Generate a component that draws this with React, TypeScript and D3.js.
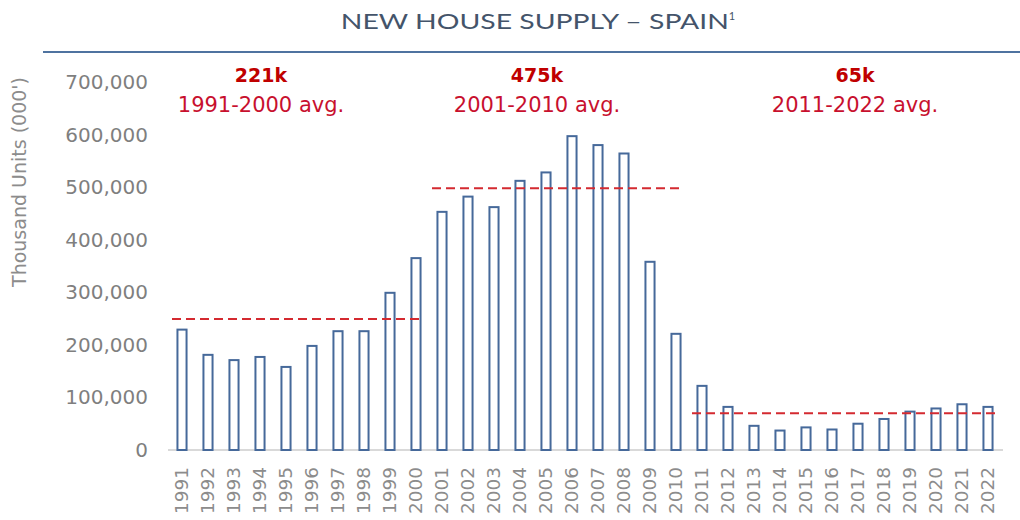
import { useEffect, useRef } from "react"
import * as d3 from "d3"

const years = d3.range(1991, 2023).map(String)
const supply = [
  229000, 181000, 171000, 177000, 158000, 198000, 226000, 226000, 299000, 365000,
  453000, 482000, 462000, 512000, 528000, 597000, 580000, 564000, 358000, 221000,
  122000, 82000, 46000, 37000, 43000, 39000, 50000, 59000, 73000, 79000, 87000, 82000,
]
const yTicks = [0, 100000, 200000, 300000, 400000, 500000, 600000, 700000]

const periodFrom = ["1991", "2001", "2011"]
const periodTo = ["2000", "2010", "2022"]
const periodLine = [249000, 498000, 70000]
const periodValue = ["221k", "475k", "65k"]
const periodText = ["1991-2000 avg.", "2001-2010 avg.", "2011-2022 avg."]

const W = 1020
const H = 520
const FONT = "'DejaVu Sans', sans-serif"

export default function App() {
  const svgRef = useRef<SVGSVGElement>(null)

  useEffect(() => {
    document.body.style.margin = "0"
    if (!svgRef.current) return
    const svg = d3.select(svgRef.current)
    svg.selectAll("*").remove()

    const x = d3.scaleBand<string>().domain(years).range([169, 1001]).paddingInner(0.65).paddingOuter(0.325)
    const y = d3.scaleLinear().domain([0, 700000]).range([450, 82])
    const cx = (d: string) => (x(d) as number) + x.bandwidth() / 2

    // title + rule
    const title = svg
      .append("text")
      .attr("x", 538)
      .attr("y", 29)
      .attr("text-anchor", "middle")
      .attr("font-family", "Lato, sans-serif")
      .attr("font-size", 22)
      .attr("fill", "#44546a")
    title.append("tspan").attr("textLength", 388).attr("lengthAdjust", "spacingAndGlyphs").text("NEW HOUSE SUPPLY – SPAIN")
    title.append("tspan").attr("font-size", 11).attr("dy", -9).text("1")

    svg.append("line").attr("x1", 43).attr("x2", W).attr("y1", 52).attr("y2", 52)
      .attr("stroke", "#4f73a0").attr("stroke-width", 2)

    // y axis label
    svg
      .append("text")
      .attr("transform", "translate(26,182) rotate(-90)")
      .attr("text-anchor", "middle")
      .attr("font-family", FONT)
      .attr("font-size", 19)
      .attr("fill", "#8c8c8c")
      .text("Thousand Units (000')")

    // y ticks
    svg
      .append("g")
      .selectAll("text")
      .data(yTicks)
      .join("text")
      .attr("x", 148)
      .attr("y", (d) => y(d))
      .attr("dy", "0.35em")
      .attr("text-anchor", "end")
      .attr("font-family", FONT)
      .attr("font-size", 20)
      .attr("fill", "#7f7f7f")
      .text((d) => d3.format(",")(d))

    // baseline
    svg.append("line").attr("x1", 168).attr("x2", 1003).attr("y1", y(0)).attr("y2", y(0))
      .attr("stroke", "#d9d9d9").attr("stroke-width", 2)

    // bars
    svg
      .append("g")
      .selectAll("rect")
      .data(years)
      .join("rect")
      .attr("x", (d) => x(d) as number)
      .attr("width", x.bandwidth())
      .attr("y", (d, i) => y(supply[i]))
      .attr("height", (d, i) => y(0) - y(supply[i]))
      .attr("fill", "#fff")
      .attr("stroke", "#46699a")
      .attr("stroke-width", 2)

    // x labels
    svg
      .append("g")
      .selectAll("text")
      .data(years)
      .join("text")
      .attr("transform", (d) => `translate(${cx(d)},467) rotate(-90)`)
      .attr("dy", "0.35em")
      .attr("text-anchor", "end")
      .attr("font-family", FONT)
      .attr("font-size", 18.5)
      .attr("fill", "#8c8c8c")
      .text((d) => d)

    // period averages
    periodFrom.forEach((from, i) => {
      svg.append("line")
        .attr("x1", cx(from) - 10)
        .attr("x2", cx(periodTo[i]) + 7)
        .attr("y1", y(periodLine[i]))
        .attr("y2", y(periodLine[i]))
        .attr("stroke", "#d42a30")
        .attr("stroke-width", 2)
        .attr("stroke-dasharray", "9,5")
    })

    const labelX = [261, 537, 855]
    periodValue.forEach((v, i) => {
      svg.append("text")
        .attr("x", labelX[i]).attr("y", 82)
        .attr("text-anchor", "middle")
        .attr("font-family", FONT)
        .attr("font-weight", "bold")
        .attr("font-size", 19)
        .attr("fill", "#c00000")
        .text(v)
      svg.append("text")
        .attr("x", labelX[i]).attr("y", 112)
        .attr("text-anchor", "middle")
        .attr("font-family", FONT)
        .attr("font-size", 21)
        .attr("fill", "#c8102e")
        .text(periodText[i])
    })
  }, [])

  return <svg ref={svgRef} width={W} height={H} style={{ display: "block", background: "#fff" }}></svg>
}
